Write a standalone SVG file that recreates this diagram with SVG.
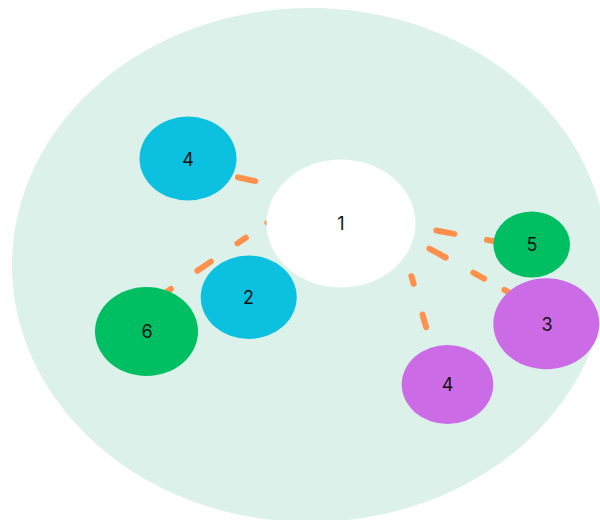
<svg xmlns="http://www.w3.org/2000/svg" width="600" height="520" viewBox="0 0 600 520">
  <style>
    .bg { fill: #DBF1EA; }
    .edge { fill: none; stroke: #FF914D; stroke-width: 6; stroke-linecap: round; }
    .white { fill: #FFFFFF; }
    .cyan { fill: #0CC0DF; }
    .green { fill: #00BF63; }
    .purple { fill: #CB6CE6; }
    .label { font-family: Inter, "Liberation Sans", Arial, sans-serif; font-size: 18px; fill: #111111; text-anchor: middle; }
  </style>
  <rect x="0" y="0" width="600" height="520" fill="#FFFFFF"/>
  <ellipse id="background" class="bg" cx="310" cy="265" rx="298" ry="257"/>
  <g id="connectors">
    <path id="e-1-4a" class="edge" d="M300,190.65 L200,169.2" stroke-dasharray="10 35.65 17.83 100"/>
    <path id="e-1-6" class="edge" d="M290,207.5 L150,303.2" stroke-dasharray="27.3 26.2 10.1 32.3 16.2 32.3 100"/>
    <path id="e-1-5" class="edge" d="M400,223.84 L540,249.7" stroke-dasharray="10 26.9 18.4 33.1 100"/>
    <path id="e-1-3" class="edge" d="M390,226.9 L530,303.9" stroke-dasharray="20 24.9 18.6 31.6 12.3 23.1 100"/>
    <path id="e-1-4b" class="edge" d="M398,230 L441.5,380" stroke-dasharray="22 26.1 7.9 32.1 13 40 100"/>
  </g>
  <g id="node-1">
    <ellipse class="white" cx="341" cy="223.5" rx="74.5" ry="64"/>
    <text class="label" x="341" y="230">1</text>
  </g>
  <g id="node-4a">
    <ellipse class="cyan" cx="188" cy="158.5" rx="48.5" ry="42"/>
    <text class="label" x="188" y="166">4</text>
  </g>
  <g id="node-2">
    <ellipse class="cyan" cx="248.7" cy="297.3" rx="48" ry="41.7"/>
    <text class="label" x="248.5" y="304">2</text>
  </g>
  <g id="node-6">
    <ellipse class="green" cx="146.5" cy="331.5" rx="51.5" ry="44.5"/>
    <text class="label" x="147" y="338">6</text>
  </g>
  <g id="node-5">
    <ellipse class="green" cx="531.7" cy="244.5" rx="38.3" ry="33"/>
    <text class="label" x="532" y="251">5</text>
  </g>
  <g id="node-3">
    <ellipse class="purple" cx="546.3" cy="323.8" rx="53" ry="45.5"/>
    <text class="label" x="547" y="331">3</text>
  </g>
  <g id="node-4b">
    <ellipse class="purple" cx="447.5" cy="384.5" rx="45.8" ry="39.5"/>
    <text class="label" x="447.5" y="391">4</text>
  </g>
</svg>
